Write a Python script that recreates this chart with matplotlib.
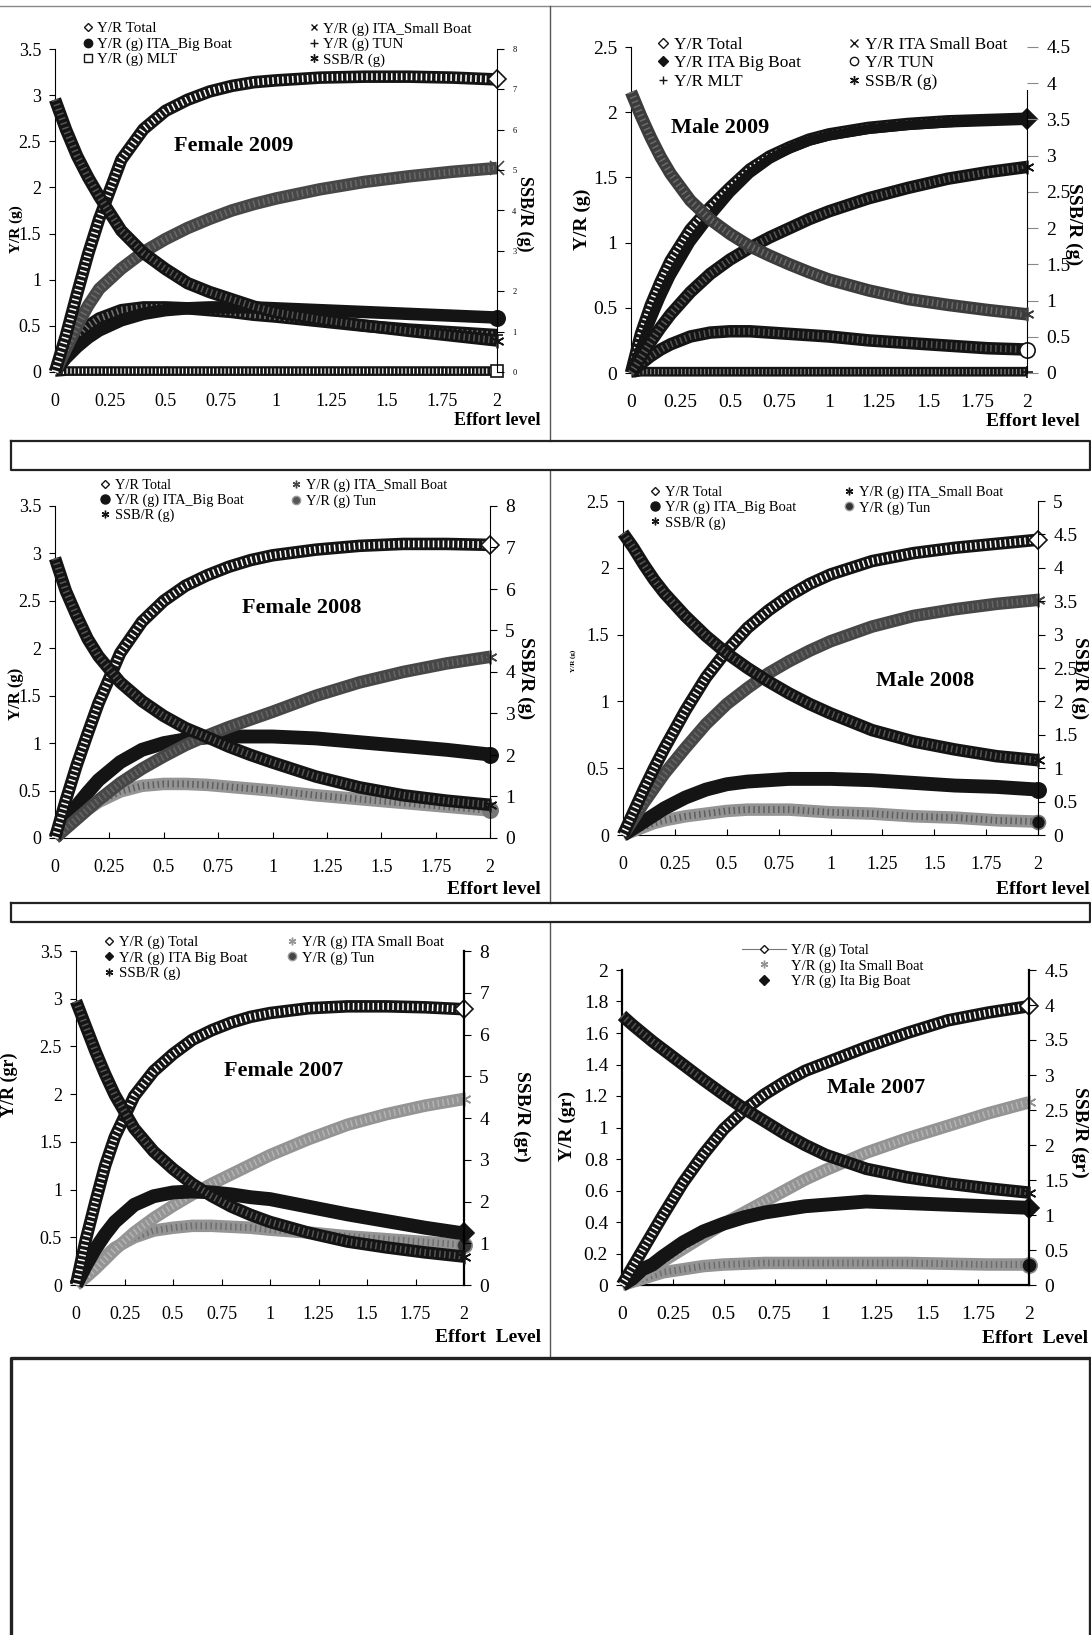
import numpy as np
import matplotlib
matplotlib.use("Agg")
import matplotlib.pyplot as plt
from matplotlib.lines import Line2D
from matplotlib.legend import Legend
from matplotlib.ticker import FuncFormatter

W, H = 1091, 1635

effort = [0, 0.05, 0.1, 0.15, 0.2, 0.3, 0.4, 0.5, 0.6, 0.7, 0.8, 0.9, 1.0, 1.2, 1.4, 1.6, 1.8, 2.0]
xticks = [0, 0.25, 0.5, 0.75, 1, 1.25, 1.5, 1.75, 2]

# Female 2009
f09_total = [0, 0.40, 0.85, 1.28, 1.66, 2.30, 2.63, 2.83, 2.95, 3.04, 3.10, 3.14, 3.16, 3.19, 3.20, 3.20, 3.19, 3.17]
f09_small = [0, 0.25, 0.50, 0.72, 0.90, 1.12, 1.30, 1.44, 1.56, 1.66, 1.75, 1.82, 1.88, 1.98, 2.06, 2.12, 2.17, 2.21]
f09_big = [0, 0.15, 0.27, 0.37, 0.45, 0.56, 0.63, 0.67, 0.69, 0.70, 0.70, 0.70, 0.69, 0.67, 0.65, 0.63, 0.61, 0.59]
f09_tun = [0, 0.20, 0.38, 0.50, 0.58, 0.67, 0.70, 0.70, 0.69, 0.67, 0.65, 0.62, 0.60, 0.55, 0.50, 0.46, 0.43, 0.40]
f09_mlt = [0, 0.01, 0.01, 0.01, 0.01, 0.01, 0.01, 0.01, 0.01, 0.01, 0.01, 0.01, 0.01, 0.01, 0.01, 0.01, 0.01, 0.01]
f09_ssb = [6.75, 6.00, 5.35, 4.82, 4.35, 3.50, 2.95, 2.55, 2.20, 1.98, 1.80, 1.62, 1.48, 1.30, 1.15, 1.02, 0.90, 0.78]

# Male 2009
m09_total = [0, 0.30, 0.52, 0.70, 0.86, 1.10, 1.27, 1.42, 1.56, 1.66, 1.73, 1.79, 1.83, 1.88, 1.91, 1.93, 1.94, 1.95]
m09_big = [0, 0.20, 0.40, 0.58, 0.74, 1.00, 1.20, 1.38, 1.53, 1.64, 1.72, 1.78, 1.82, 1.87, 1.90, 1.92, 1.94, 1.95]
m09_small = [0, 0.12, 0.24, 0.35, 0.45, 0.62, 0.76, 0.87, 0.96, 1.04, 1.11, 1.18, 1.24, 1.34, 1.42, 1.49, 1.54, 1.58]
m09_tun = [0, 0.07, 0.13, 0.18, 0.22, 0.28, 0.31, 0.32, 0.32, 0.31, 0.30, 0.29, 0.28, 0.25, 0.23, 0.21, 0.19, 0.18]
m09_mlt = [0, 0.01, 0.01, 0.01, 0.01, 0.01, 0.01, 0.01, 0.01, 0.01, 0.01, 0.01, 0.01, 0.01, 0.01, 0.01, 0.01, 0.01]
m09_ssb = [3.88, 3.55, 3.25, 2.98, 2.75, 2.38, 2.12, 1.92, 1.75, 1.62, 1.50, 1.39, 1.29, 1.14, 1.02, 0.94, 0.87, 0.81]

# Female 2008
f08_total = [0, 0.40, 0.77, 1.10, 1.42, 1.95, 2.28, 2.50, 2.66, 2.77, 2.86, 2.93, 2.98, 3.04, 3.08, 3.10, 3.10, 3.09]
f08_small = [0, 0.10, 0.20, 0.30, 0.40, 0.58, 0.73, 0.86, 0.98, 1.08, 1.17, 1.25, 1.33, 1.50, 1.64, 1.75, 1.84, 1.91]
f08_big = [0, 0.18, 0.34, 0.48, 0.61, 0.80, 0.93, 1.00, 1.04, 1.06, 1.07, 1.07, 1.07, 1.05, 1.01, 0.97, 0.93, 0.88]
f08_tun = [0, 0.10, 0.20, 0.30, 0.38, 0.49, 0.55, 0.57, 0.57, 0.56, 0.54, 0.52, 0.50, 0.45, 0.41, 0.37, 0.33, 0.29]
f08_ssb = [6.74, 5.95, 5.35, 4.80, 4.38, 3.75, 3.30, 2.94, 2.65, 2.43, 2.20, 2.00, 1.82, 1.48, 1.22, 1.03, 0.90, 0.80]

# Male 2008
m08_total = [0, 0.17, 0.34, 0.50, 0.65, 0.93, 1.18, 1.38, 1.55, 1.68, 1.79, 1.88, 1.95, 2.05, 2.11, 2.15, 2.18, 2.21]
m08_small = [0, 0.12, 0.24, 0.35, 0.46, 0.65, 0.83, 0.98, 1.10, 1.21, 1.30, 1.38, 1.45, 1.56, 1.64, 1.69, 1.73, 1.76]
m08_big = [0, 0.05, 0.10, 0.15, 0.20, 0.28, 0.34, 0.38, 0.40, 0.41, 0.42, 0.42, 0.42, 0.41, 0.39, 0.37, 0.36, 0.34]
m08_tun = [0, 0.03, 0.06, 0.09, 0.11, 0.14, 0.16, 0.18, 0.19, 0.19, 0.19, 0.18, 0.17, 0.16, 0.14, 0.13, 0.11, 0.10]
m08_ssb = [4.52, 4.30, 4.05, 3.82, 3.62, 3.28, 2.98, 2.72, 2.50, 2.30, 2.12, 1.96, 1.82, 1.57, 1.40, 1.28, 1.18, 1.12]

# Female 2007
f07_total = [0, 0.47, 0.87, 1.25, 1.55, 1.98, 2.24, 2.42, 2.57, 2.67, 2.75, 2.81, 2.85, 2.90, 2.92, 2.92, 2.91, 2.89]
f07_small = [0, 0.08, 0.17, 0.27, 0.37, 0.55, 0.70, 0.83, 0.95, 1.06, 1.16, 1.26, 1.36, 1.53, 1.68, 1.79, 1.88, 1.95]
f07_big = [0, 0.20, 0.38, 0.53, 0.66, 0.84, 0.93, 0.97, 0.98, 0.97, 0.95, 0.92, 0.90, 0.82, 0.74, 0.67, 0.60, 0.54]
f07_tun = [0, 0.10, 0.20, 0.30, 0.39, 0.50, 0.57, 0.60, 0.62, 0.62, 0.61, 0.60, 0.58, 0.55, 0.51, 0.48, 0.45, 0.42]
f07_ssb = [6.80, 6.20, 5.60, 5.05, 4.55, 3.75, 3.20, 2.78, 2.42, 2.13, 1.88, 1.68, 1.51, 1.25, 1.04, 0.90, 0.78, 0.68]

# Male 2007
m07_total = [0, 0.11, 0.22, 0.33, 0.44, 0.65, 0.83, 0.99, 1.11, 1.21, 1.29, 1.36, 1.41, 1.51, 1.60, 1.68, 1.73, 1.77]
m07_small = [0, 0.03, 0.07, 0.11, 0.15, 0.23, 0.31, 0.39, 0.46, 0.53, 0.60, 0.67, 0.73, 0.84, 0.93, 1.01, 1.09, 1.16]
m07_big = [0, 0.04, 0.10, 0.13, 0.18, 0.27, 0.34, 0.39, 0.43, 0.46, 0.48, 0.50, 0.51, 0.53, 0.52, 0.51, 0.50, 0.49]
m07_tun = [0, 0.02, 0.04, 0.06, 0.08, 0.10, 0.12, 0.13, 0.135, 0.14, 0.14, 0.14, 0.14, 0.14, 0.14, 0.135, 0.13, 0.13]
m07_ssb = [3.85, 3.72, 3.60, 3.48, 3.37, 3.15, 2.93, 2.72, 2.52, 2.34, 2.16, 2.00, 1.86, 1.66, 1.54, 1.45, 1.38, 1.32]

SERIF = "Liberation Serif"
plt.rcParams["font.family"] = SERIF
BLACK = "#141414"
DARK = "#474747"
LIGHT = "#949494"
AST = (6, 2, 0)

fig = plt.figure(figsize=(W / 100, H / 100), dpi=100)
bg = fig.add_axes([0, 0, 1, 1], zorder=-5)
bg.set_xlim(0, W)
bg.set_ylim(H, 0)
bg.axis("off")

# page frame lines
bg.plot([0, W], [5.5, 5.5], color="#888888", lw=1)
for y0, y1 in [(5.5, 441), (470, 903), (922, 1358)]:
    bg.plot([549.5, 549.5], [y0, y1], color="#555555", lw=1)
for y0, y1 in [(441, 470), (903, 922)]:
    bg.plot([10.5, 1089.5, 1089.5, 10.5, 10.5], [y0, y0, y1, y1, y0], color="#222222", lw=1.6)
bg.plot([10.5, 10.5, 1089.5, 1089.5], [H, 1358, 1358, H], color="#222222", lw=2.4)


def fmt(v, pos):
    return "%g" % round(v, 2)


def panel(l, t, r, b, ymax, ystep, rmax, rstep, tick_fs=13, rfs=13):
    ax = fig.add_axes([l / W, 1 - b / H, (r - l) / W, (b - t) / H])
    ax.set_xlim(0, 2)
    ax.set_ylim(0, ymax)
    ax.set_xticks(xticks)
    ax.set_yticks(np.arange(0, ymax + 1e-6, ystep))
    ax.xaxis.set_major_formatter(FuncFormatter(fmt))
    ax.yaxis.set_major_formatter(FuncFormatter(fmt))
    ax.spines["top"].set_visible(False)
    ax.spines["right"].set_visible(False)
    ax.tick_params(axis="x", direction="in", length=4, pad=15, labelsize=tick_fs)
    ax.tick_params(axis="y", direction="out", length=4, pad=6, labelsize=tick_fs)
    ax.patch.set_alpha(0)
    tw = ax.twinx()
    tw.set_ylim(0, rmax)
    tw.set_yticks(np.arange(0, rmax + 1e-6, rstep))
    tw.yaxis.set_major_formatter(FuncFormatter(fmt))
    tw.spines["top"].set_visible(False)
    tw.spines["left"].set_visible(False)
    tw.spines["bottom"].set_visible(False)
    tw.tick_params(axis="y", direction="out", length=5, pad=6, labelsize=rfs)
    return ax, tw


def band(ax, y, base, stripe=None, lw=9, end=None, ms=10, mfc=None, mec=None, z=3):
    ax.plot(effort, y, color=base, lw=lw, solid_joinstyle="round", solid_capstyle="butt", zorder=z, clip_on=False)
    if stripe:
        ax.plot(effort, y, color=stripe, lw=lw * 0.55, dashes=(0.22, 0.5), dash_capstyle="butt", zorder=z, clip_on=False)
    if end:
        ax.plot(effort[-1], y[-1], marker=end, ms=ms, mfc=mfc or base, mec=mec or base, mew=1.2, ls="none", zorder=z + 0.5, clip_on=False)


def legend(ax, items, x, y, fs, hl=0.6):
    handles = []
    labels = []
    for lab, m, fc, ec, msz, ls in items:
        handles.append(Line2D([], [], marker=m, mfc=fc, mec=ec, ms=msz, mew=1.0, ls=ls, color="#777777", lw=0.8))
        labels.append(lab)
    lg = Legend(ax, handles, labels, loc="upper left", bbox_to_anchor=(x / W, 1 - y / H), bbox_transform=fig.transFigure,
                frameon=False, fontsize=fs, handlelength=hl, handletextpad=0.35,
                labelspacing=0.12, borderpad=0, borderaxespad=0)
    ax.add_artist(lg)


def label(x, y, s, fs, rot=0, ha="center", bold=True):
    bg.text(x, y, s, fontsize=fs, rotation=rot, ha=ha, va="center", fontweight="bold" if bold else "normal", family=SERIF)


def title(x, y, s):
    bg.text(x, y, s, fontsize=16, ha="center", va="center", fontweight="bold", family=SERIF)


# ---- Female 2009
ax, tw = panel(55, 49, 497, 372, 3.5, 0.5, 8, 1, rfs=6)
band(ax, f09_mlt, BLACK, "white", lw=7, end="s", ms=8, mfc="white")
band(ax, f09_tun, BLACK, "#777777", end="+", ms=9)
band(ax, f09_big, BLACK, None, end="o", ms=11)
band(ax, f09_small, DARK, "#6a6a6a", end="x", ms=10)
band(ax, f09_total, BLACK, "white", end="D", ms=9, mfc="white")
band(tw, f09_ssb, BLACK, "#555555", end=AST, ms=10)
legend(ax, [("Y/R Total", "D", "white", BLACK, 4.5, "none"), ("Y/R (g) ITA_Big Boat", "o", BLACK, BLACK, 6, "none"),
            ("Y/R (g) MLT", "s", "white", BLACK, 5.5, "none")], 83, 22, 10.8)
legend(ax, [("Y/R (g) ITA_Small Boat", "x", BLACK, BLACK, 5, "none"), ("Y/R (g) TUN", "+", BLACK, BLACK, 5.5, "none"),
            ("SSB/R (g)", AST, BLACK, BLACK, 6, "none")], 309, 22, 10.8)
title(234, 146, "Female 2009")
label(16, 229, "Y/R (g)", 11, rot=90)
label(525, 214, "SSB/R (g)", 13, rot=-90)
label(541, 420, "Effort level", 13, ha="right")

# ---- Male 2009
ax, tw = panel(631, 47, 1027, 373, 2.5, 0.5, 4.5, 0.5, tick_fs=14, rfs=14)
tw.spines["right"].set_bounds(0, 3.9)
tw.tick_params(axis="y", colors="#888888", labelcolor="black", length=8)
band(ax, m09_mlt, BLACK, "#888888", lw=7, end="+", ms=9)
band(ax, m09_tun, BLACK, "#555555", end="o", ms=11, mfc="white")
band(ax, m09_total, BLACK, "white")
band(ax, m09_big, BLACK, None, lw=7, end="D", ms=10)
band(ax, m09_small, BLACK, "#5a5a5a", end=AST, ms=10)
band(tw, m09_ssb, "#3c3c3c", "#6a6a6a", end=AST, ms=10)
legend(ax, [("Y/R Total", "D", "white", BLACK, 5, "none"), ("Y/R ITA Big Boat", "D", BLACK, BLACK, 5, "none"),
            ("Y/R MLT", "+", BLACK, BLACK, 6, "none")], 658, 37, 12.5)
legend(ax, [("Y/R ITA Small Boat", "x", BLACK, BLACK, 6, "none"), ("Y/R TUN", "o", "white", BLACK, 6, "none"),
            ("SSB/R (g)", AST, BLACK, BLACK, 6.5, "none")], 849, 37, 12.5)
title(720, 128, "Male 2009")
label(582, 219, "Y/R (g)", 14, rot=90)
label(1074, 224, "SSB/R (g)", 14, rot=-90)
label(1080, 421, "Effort level", 14, ha="right")

# ---- Female 2008
ax, tw = panel(55, 506, 490, 838, 3.5, 0.5, 8, 1, tick_fs=13, rfs=14)
band(ax, f08_tun, LIGHT, "#5e5e5e", end="o", ms=11, mfc="#777777", mec="#777777")
band(ax, f08_big, BLACK, None, lw=10, end="o", ms=11)
band(ax, f08_small, DARK, "#666666", end=AST, ms=10)
band(ax, f08_total, BLACK, "white", end="D", ms=9, mfc="white")
band(tw, f08_ssb, BLACK, "#555555", end=AST, ms=10)
legend(ax, [("Y/R Total", "D", "white", BLACK, 4.5, "none"), ("Y/R (g) ITA_Big Boat", "o", BLACK, BLACK, 6.5, "none"),
            ("SSB/R (g)", AST, BLACK, BLACK, 5.5, "none")], 101, 479, 10.3)
legend(ax, [("Y/R (g) ITA_Small Boat", AST, DARK, DARK, 5.5, "none"), ("Y/R (g) Tun", "o", "#555555", "#999999", 6, "none")],
       292, 479, 10.3)
title(302, 608, "Female 2008")
label(16, 694, "Y/R (g)", 12, rot=90)
label(526, 678, "SSB/R (g)", 14, rot=-90)
label(541, 889, "Effort level", 14, ha="right")

# ---- Male 2008
ax, tw = panel(623, 501, 1038, 835, 2.5, 0.5, 5, 0.5, tick_fs=13, rfs=14)
band(ax, m08_tun, LIGHT, "#5e5e5e", end="o", ms=10, mfc=BLACK, mec="#777777")
band(ax, m08_big, BLACK, None, lw=10, end="o", ms=11)
band(ax, m08_small, DARK, "#666666", end=AST, ms=10)
band(ax, m08_total, BLACK, "white", end="D", ms=9, mfc="white")
band(tw, m08_ssb, BLACK, "#555555", end=AST, ms=10)
legend(ax, [("Y/R Total", "D", "white", BLACK, 4.5, "none"), ("Y/R (g) ITA_Big Boat", "o", BLACK, BLACK, 6.5, "none"),
            ("SSB/R (g)", AST, BLACK, BLACK, 5.5, "none")], 651, 486, 10.5)
legend(ax, [("Y/R (g) ITA_Small Boat", AST, BLACK, BLACK, 5.5, "none"), ("Y/R (g) Tun", "o", "#333333", "#999999", 6, "none")],
       845, 486, 10.5)
title(925, 681, "Male 2008")
label(573, 661, "Y/R (g)", 5, rot=90)
label(1080, 678, "SSB/R (g)", 14, rot=-90)
label(996, 889, "Effort level", 14, ha="left")

# ---- Female 2007
ax, tw = panel(76, 951, 464, 1285, 3.5, 0.5, 8, 1, tick_fs=13, rfs=14)
tw.spines["right"].set_linewidth(1.6)
band(ax, f07_tun, LIGHT, "#6e6e6e", end="o", ms=11, mfc="#333333", mec="#888888")
band(ax, f07_small, LIGHT, "#b4b4b4", end=AST, ms=10)
band(ax, f07_big, BLACK, None, lw=10, end="D", ms=10)
band(ax, f07_total, BLACK, "white", end="D", ms=9, mfc="white")
band(tw, f07_ssb, BLACK, "#555555", end=AST, ms=10)
legend(ax, [("Y/R (g) Total", "D", "white", BLACK, 4.5, "none"), ("Y/R (g) ITA Big Boat", "D", BLACK, BLACK, 4.5, "none"),
            ("SSB/R (g)", AST, BLACK, BLACK, 5.5, "none")], 105, 936, 10.6)
legend(ax, [("Y/R (g) ITA Small Boat", AST, LIGHT, LIGHT, 5.5, "none"), ("Y/R (g) Tun", "o", "#444444", "#999999", 6, "none")],
       288, 936, 10.6)
title(284, 1071, "Female 2007")
label(9, 1085, "Y/R (gr)", 13, rot=90)
label(522, 1116, "SSB/R (gr)", 14, rot=-90)
label(541, 1337, "Effort  Level", 14, ha="right")

# ---- Male 2007
ax, tw = panel(622, 970, 1029, 1285, 2, 0.2, 4.5, 0.5, tick_fs=14, rfs=14)
ax.spines["left"].set_linewidth(1.6)
ax.spines["bottom"].set_linewidth(1.6)
tw.spines["right"].set_linewidth(1.6)
band(ax, m07_tun, LIGHT, "#6e6e6e", end="o", ms=11, mfc=BLACK, mec="#888888")
band(ax, m07_small, LIGHT, "#b4b4b4", end=AST, ms=10)
band(ax, m07_big, BLACK, None, lw=10, end="D", ms=10)
band(ax, m07_total, BLACK, "white", end="D", ms=9, mfc="white")
band(tw, m07_ssb, BLACK, "#555555", end=AST, ms=10)
legend(ax, [("Y/R (g) Total", "D", "white", BLACK, 4.5, "-"), ("Y/R (g) Ita Small Boat", AST, LIGHT, LIGHT, 5.5, "none"),
            ("Y/R (g) Ita Big Boat", "D", BLACK, BLACK, 5, "none")], 742, 944, 10.5, hl=3.0)
title(876, 1088, "Male 2007")
label(567, 1126, "Y/R (gr)", 14, rot=90)
label(1080, 1132, "SSB/R (gr)", 14, rot=-90)
label(982, 1338, "Effort  Level", 14, ha="left")

fig.savefig("out.png", dpi=100)
